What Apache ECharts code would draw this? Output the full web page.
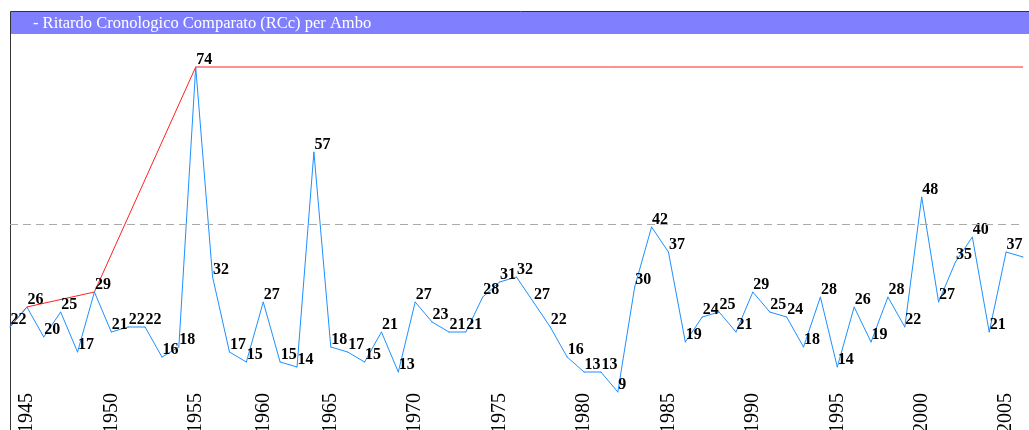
<!DOCTYPE html>
<html>
<head>
<meta charset="utf-8">
<script src="https://cdn.jsdelivr.net/npm/echarts@6/dist/echarts.min.js"></script>
<style>
  html, body { margin: 0; padding: 0; background: #fff; }
  #chart { width: 1029px; height: 430px; }
</style>
</head>
<body>
<div id="chart"></div>
<script>
// ritardo per estrazione (one point per draw)
const delays = [
    22, 26, 20, 25, 17, 29, 21, 22, 22, 16, 18, 74,
    32, 17, 15, 27, 15, 14, 57,
    18, 17, 15, 21, 13,
    27, 23, 21, 21, 28,
    31, 32, 27, 22, 16,
    13, 13, 9, 30, 42,
    37, 19, 24, 25, 21,
    29, 25, 24, 18, 28,
    14, 26, 19, 28, 22,
    48, 27, 35, 40, 21,
    37, 36
];

// record line (running maximum), points where it changes
const recordIdx = [0, 1, 5, 11, 60];
const recordVal = [22, 26, 29, 74, 74];

// dashed reference level
const refLevel = 42.6;

// year labels and the draw index they sit at
const yearIdx = [1, 6, 11, 15, 19, 24, 29, 34, 39, 44, 49, 54, 59];
const yearLabels = ['1945', '1950', '1955', '1960', '1965', '1970', '1975',
    '1980', '1985', '1990', '1995', '2000', '2005'];

const categories = delays.map((_, i) => String(i));

const chart = echarts.init(document.getElementById('chart'));

const option = {
    animation: false,
    backgroundColor: '#fff',
    title: {
        text: '- Ritardo Cronologico Comparato (RCc) per Ambo',
        left: 33,
        top: 15,
        padding: 0,
        z: 10,
        textStyle: {
            color: '#fff',
            fontFamily: 'Liberation Serif',
            fontSize: 16.5,
            fontWeight: 'normal'
        }
    },
    graphic: [
        {
            type: 'rect',
            z: 0,
            shape: { x: 10.5, y: 11.5, width: 1040, height: 440 },
            style: { fill: null, stroke: '#333', lineWidth: 1 }
        },
        {
            type: 'rect',
            z: 1,
            shape: { x: 11, y: 12, width: 1030, height: 22 },
            style: { fill: '#8080ff' }
        }
    ],
    grid: {
        left: 10,
        right: 6,
        top: 37,
        height: 400,
        outerBoundsMode: 'none'
    },
    xAxis: {
        type: 'category',
        data: categories,
        boundaryGap: false,
        offset: -49,
        axisLine: { show: false },
        axisTick: { show: false },
        splitLine: { show: false },
        axisLabel: {
            rotate: 90,
            margin: 5,
            padding: [0, 0, 8, 0],
            color: '#000',
            fontFamily: 'Liberation Serif',
            fontSize: 20,
            interval: (i) => yearIdx.includes(i),
            formatter: (v, i) => {
                const k = yearIdx.indexOf(i);
                return k >= 0 ? yearLabels[k] : '';
            }
        }
    },
    yAxis: {
        type: 'value',
        min: 0,
        max: 80,
        show: false
    },
    series: [
        {
            name: 'Record',
            type: 'line',
            data: recordIdx.map((x, i) => [x, recordVal[i]]),
            symbol: 'none',
            lineStyle: { color: '#ff2020', width: 1 },
            z: 3
        },
        {
            name: 'RCc',
            type: 'line',
            data: delays,
            symbol: 'circle',
            symbolSize: 1,
            itemStyle: { color: '#1e90ff' },
            lineStyle: { color: '#1e90ff', width: 1 },
            z: 4,
            label: {
                show: true,
                position: [1, 1],
                align: 'left',
                verticalAlign: 'bottom',
                color: '#000',
                fontFamily: 'Liberation Serif',
                fontSize: 16,
                fontWeight: 'bold',
                formatter: (p) => p.dataIndex === delays.length - 1 ? '' : String(p.value)
            },
            markLine: {
                silent: true,
                symbol: 'none',
                label: { show: false },
                lineStyle: { color: '#aaa', type: [8, 5], width: 1 },
                data: [{ yAxis: refLevel }]
            }
        }
    ]
};

chart.setOption(option);
</script>
</body>
</html>
